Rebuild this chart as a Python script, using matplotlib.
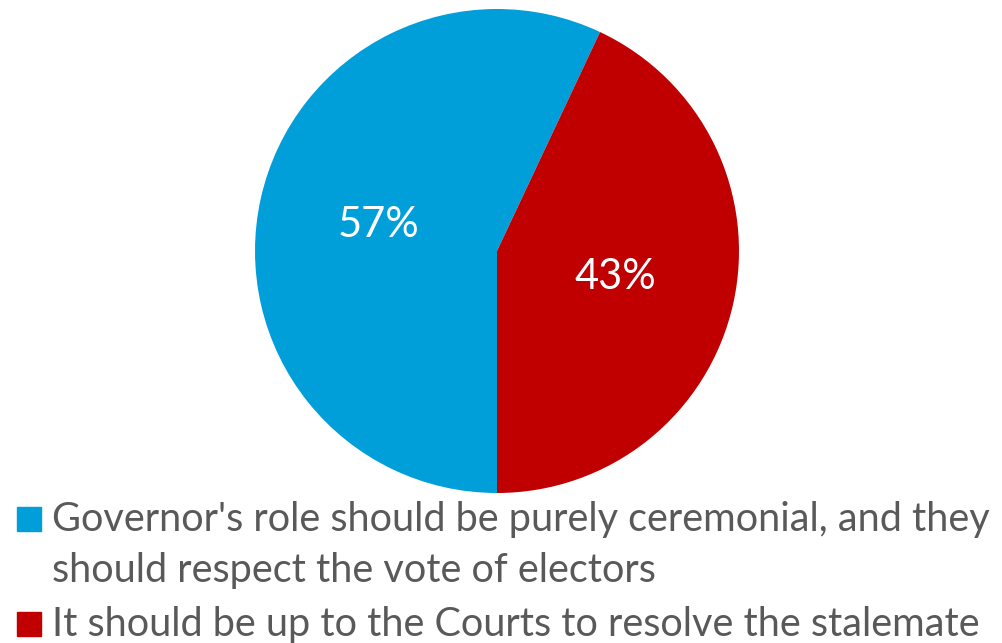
import matplotlib.pyplot as plt
from matplotlib.patches import Rectangle

plt.rcParams["font.family"] = ["Lato", "DejaVu Sans"]

labels = [
    "Governor's role should be purely ceremonial, and they\nshould respect the vote of electors",
    "It should be up to the Courts to resolve the stalemate",
]
shares = [57, 43]
colors = ["#009FDA", "#C00000"]

W, H = 1002, 643
fig = plt.figure(figsize=(W / 100, H / 100), dpi=100)

# pie: centre (497, 251) px, radius 242 px
cx, cy, r = 497, 251, 242
ax = fig.add_axes([(cx - r) / W, (H - cy - r) / H, 2 * r / W, 2 * r / H])
start = 270 - shares[0] * 3.6
wedges, _, autotexts = ax.pie(
    shares, colors=colors, startangle=start, counterclock=True,
    autopct="%1.0f%%", pctdistance=0.5,
    wedgeprops=dict(linewidth=0),
    textprops=dict(color="white", fontsize=30),
)
ax.set_xlim(-1, 1)
ax.set_ylim(-1, 1)
ax.axis("off")

# legend, drawn by hand (first-line baselines in px from top)
baselines = [531, 636]
line_step = 51
for lab, col, yb in zip(labels, colors, baselines):
    fig.patches.append(Rectangle((17 / W, (H - yb) / H), 24 / W, 24 / H,
                                 transform=fig.transFigure, color=col))
    for i, line in enumerate(lab.split("\n")):
        fig.text(52 / W, (H - yb - i * line_step) / H, line, fontsize=28.5,
                 color="#595959", va="baseline", ha="left")

fig.savefig("out.png", dpi=100)
